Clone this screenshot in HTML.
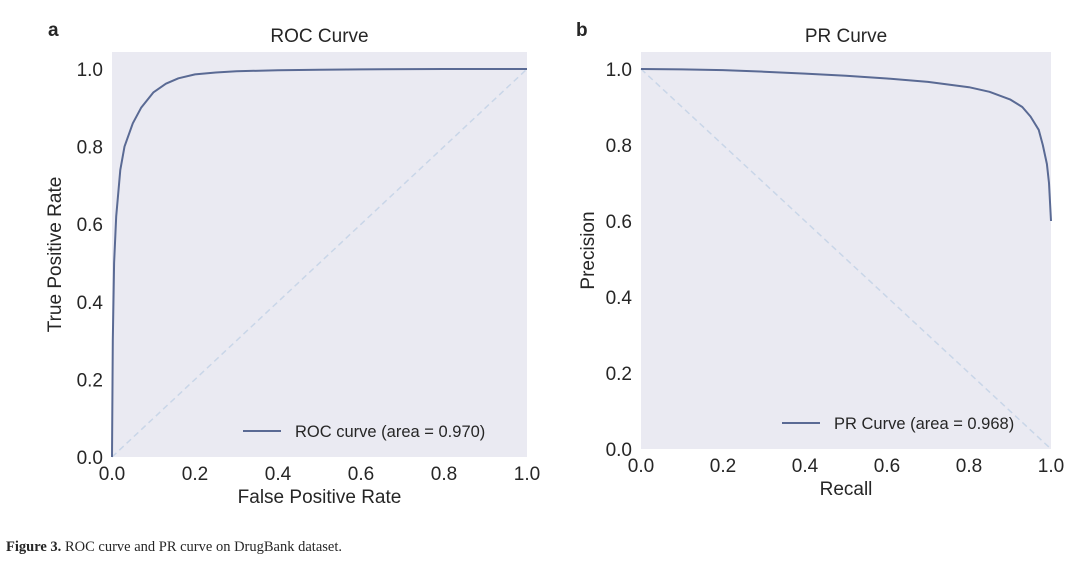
<!DOCTYPE html>
<html><head><meta charset="utf-8">
<style>
body{margin:0;background:#fff;width:1080px;height:556px;overflow:hidden;font-family:"Liberation Sans",sans-serif}
svg text{font-family:"Liberation Sans",sans-serif;fill:#262626}
</style></head><body>
<svg id="fig" width="1080" height="556">
<text x="48" y="36" font-size="19" font-weight="bold">a</text>
<text x="576" y="36" font-size="19" font-weight="bold">b</text>
<text x="6" y="551" font-size="14.5" style="font-family:'Liberation Serif',serif"><tspan font-weight="bold">Figure 3.</tspan> ROC curve and PR curve on DrugBank dataset.</text>
</svg>
<script>
const rocFpr=[0,0.002,0.005,0.01,0.02,0.03,0.05,0.07,0.1,0.13,0.16,0.2,0.25,0.3,0.4,0.5,0.6,0.8,1.0];
const rocTpr=[0,0.3,0.5,0.62,0.74,0.8,0.86,0.9,0.94,0.962,0.976,0.986,0.991,0.994,0.997,0.998,0.999,1.0,1.0];
const prRecall=[0,0.1,0.2,0.3,0.4,0.5,0.6,0.7,0.8,0.85,0.9,0.93,0.95,0.97,0.98,0.99,0.995,1.0];
const prPrecision=[1.0,0.999,0.997,0.993,0.988,0.982,0.975,0.966,0.952,0.94,0.92,0.9,0.875,0.84,0.8,0.75,0.7,0.6];
const ticks=[0,0.2,0.4,0.6,0.8,1.0];
const tickLabels=["0.0","0.2","0.4","0.6","0.8","1.0"];
const NS="http://www.w3.org/2000/svg";
const svg=document.getElementById('fig');
function mk(t,a){const e=document.createElementNS(NS,t);for(const k in a)e.setAttribute(k,a[k]);svg.appendChild(e);return e;}
function panel(p){
  const sx=v=>p.x0+(p.x1-p.x0)*v, sy=v=>p.y0+(p.y1-p.y0)*v;
  const bg=mk('rect',{x:p.x0,y:p.top,width:p.x1-p.x0,height:p.y0-p.top,fill:'#eaeaf2'});
  
  
  const dg=mk('line',{x1:sx(0),y1:sy(p.diag[0]),x2:sx(1),y2:sy(p.diag[1]),stroke:'#c9d6e8','stroke-width':1.5,'stroke-dasharray':'6,4'});
  
  
  const d=p.xs.map((v,i)=>(i?'L':'M')+sx(v).toFixed(1)+','+sy(p.ys[i]).toFixed(1)).join(' ');
  const c=mk('path',{d:d,fill:'none',stroke:'#5a6a94','stroke-width':2,'stroke-linejoin':'round'});
  
  
  ticks.forEach((t,i)=>{
    const tx=mk('text',{x:sx(t),y:p.y0+23,'font-size':19,'text-anchor':'middle'});tx.textContent=tickLabels[i];
    
    
    const ty=mk('text',{x:p.x0-9,y:sy(t)+7,'font-size':19,'text-anchor':'end'});ty.textContent=tickLabels[i];
    
    
  });
  const tt=mk('text',{x:(p.x0+p.x1)/2,y:42,'font-size':19,'text-anchor':'middle'});tt.textContent=p.title;
  
  
  const xl=mk('text',{x:(p.x0+p.x1)/2,y:p.y0+46,'font-size':19,'text-anchor':'middle'});xl.textContent=p.xl;
  
  
  const yc=(p.top+p.y0)/2;
  const yl=mk('text',{x:p.ylx,y:yc,'font-size':19,'text-anchor':'middle',transform:`rotate(-90 ${p.ylx} ${yc})`});yl.textContent=p.yl;
  
  
  const ll=mk('line',{x1:p.lx,y1:p.ly,x2:p.lx+38,y2:p.ly,stroke:'#5a6a94','stroke-width':2});
  
  
  const lt=mk('text',{x:p.lx+52,y:p.ly+6,'font-size':16.5});lt.textContent=p.leg;
  
  
}
panel({id:'roc',x0:112,x1:527,y0:457,y1:69,top:52,xs:rocFpr,ys:rocTpr,diag:[0,1],title:'ROC Curve',xl:'False Positive Rate',yl:'True Positive Rate',ylx:61,lx:243,ly:431,leg:'ROC curve (area = 0.970)'});
panel({id:'pr',x0:641,x1:1051,y0:449,y1:69,top:52,xs:prRecall,ys:prPrecision,diag:[1,0],title:'PR Curve',xl:'Recall',yl:'Precision',ylx:594,lx:782,ly:423,leg:'PR Curve (area = 0.968)'});
</script>
</body></html>
